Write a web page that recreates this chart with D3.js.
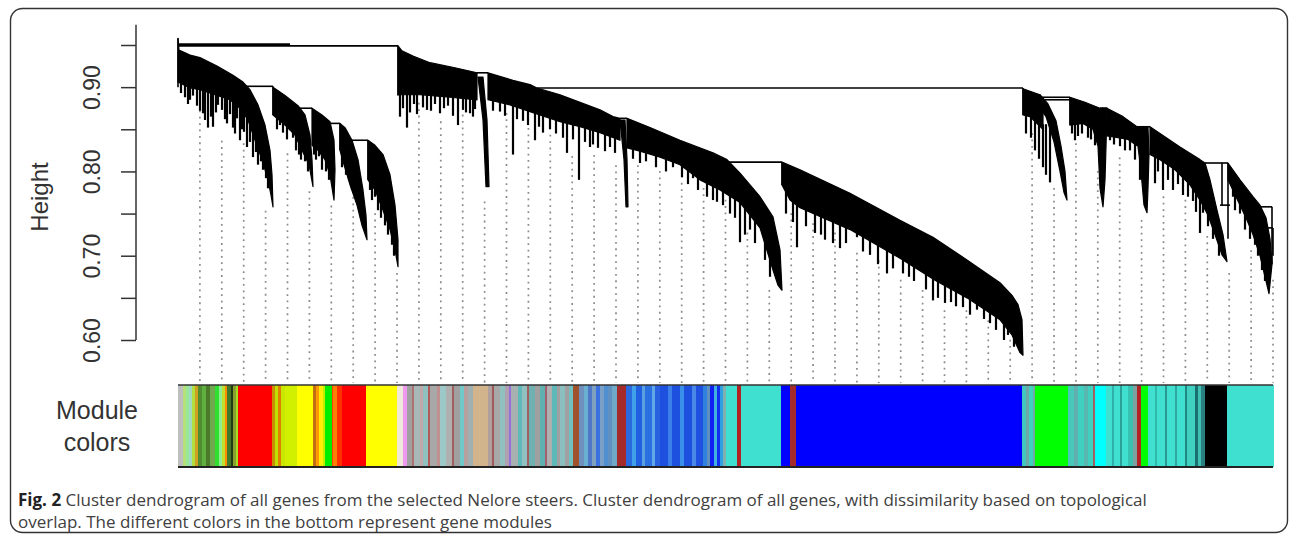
<!DOCTYPE html>
<html><head><meta charset="utf-8">
<script src="https://cdn.jsdelivr.net/npm/d3@7"></script>
<style>body{margin:0;background:#fff;} svg{display:block;}</style>
</head><body>
<svg id="c" width="1290" height="540"></svg>
<script>
// ---------------- DATA ----------------
const nLeaves = 1095;                       // leaf-order positions
const heightTicks  = [0.60,0.65,0.70,0.75,0.80,0.85,0.90,0.95];
const heightLabels = ["0.60","","0.70","","0.80","","0.90",""];

// cluster outlines: upper edge and lower edge, [leaf position, height]; spikes: [leaf position, tip height]
const upperB1 = [[0,0.958],[1,0.944],[12,0.938],[22,0.935],[39,0.925],[55,0.914],[65,0.906],[72,0.897],[80,0.879],[87,0.855],[92,0.825],[94,0.796],[95,0.758]];
const lowerB1 = [[0,0.906],[12,0.899],[22,0.897],[37,0.891],[52,0.885],[62,0.875],[70,0.861],[77,0.837],[84,0.814],[90,0.790],[93,0.772],[95,0.758]];
const spikesB1 = [[3,0.893],[7,0.888],[10,0.880],[12,0.885],[15,0.890],[19,0.878],[22,0.872],[25,0.869],[27,0.861],[30,0.852],[33,0.865],[35,0.853],[38,0.870],[40,0.879],[44,0.873],[47,0.862],[49,0.857],[52,0.868],[55,0.852],[57,0.845],[59,0.863],[62,0.837],[64,0.850],[66,0.847],[69,0.829],[72,0.835],[75,0.817],[78,0.823],[80,0.808],[83,0.812],[85,0.802],[88,0.792],[90,0.780]];

const upperB2 = [[95,0.900],[107,0.890],[120,0.878],[127,0.867],[132,0.843],[134,0.814],[135,0.782]];
const lowerB2 = [[95,0.867],[107,0.855],[117,0.843],[124,0.825],[131,0.808],[135,0.782]];
const spikesB2 = [[99,0.850],[102,0.855],[105,0.846],[109,0.838],[112,0.849],[115,0.840],[118,0.825],[121,0.820],[123,0.814],[127,0.812],[130,0.800]];

const upperB3 = [[134,0.875],[144,0.867],[152,0.859],[156,0.837],[157,0.802],[156,0.766]];
const lowerB3 = [[134,0.831],[140,0.825],[147,0.814],[152,0.796],[156,0.766]];
const spikesB3 = [[136,0.820],[138,0.814],[141,0.818],[144,0.802],[148,0.800],[151,0.790]];

const upperB4 = [[162,0.857],[167,0.852],[174,0.837],[180,0.814],[185,0.778],[188,0.748],[189,0.719]];
const lowerB4 = [[162,0.825],[166,0.808],[172,0.784],[179,0.760],[184,0.736],[189,0.719]];
const spikesB4 = [[164,0.805],[168,0.796],[171,0.790],[174,0.778],[177,0.770],[180,0.766],[183,0.745]];

const upperB5 = [[190,0.837],[197,0.831],[205,0.820],[212,0.796],[217,0.760],[220,0.719],[220,0.687]];
const lowerB5 = [[190,0.790],[197,0.778],[205,0.754],[212,0.731],[217,0.707],[220,0.687]];
const spikesB5 = [[192,0.778],[194,0.766],[197,0.770],[200,0.754],[203,0.745],[207,0.736],[210,0.725],[214,0.713],[216,0.700]];

const upperM1 = [[220,0.949],[224,0.943],[235,0.937],[252,0.929],[277,0.923],[299,0.917]];
const lowerM1 = [[220,0.891],[242,0.891],[272,0.888],[299,0.885]];
const spikesM1 = [[222,0.865],[225,0.875],[229,0.852],[232,0.870],[236,0.880],[239,0.868],[245,0.876],[249,0.873],[253,0.872],[257,0.880],[262,0.869],[266,0.875],[270,0.878],[275,0.866],[280,0.855],[285,0.873],[288,0.870],[292,0.869],[295,0.865],[297,0.874]];

const upperD1 = [[300,0.912],[305,0.861],[308,0.782]];
const lowerD1 = [[305,0.912],[309,0.861],[311,0.782]];

const upperM2 = [[310,0.917],[335,0.908],[352,0.903],[359,0.899],[382,0.891],[402,0.882],[422,0.873],[435,0.865],[442,0.863]];
const lowerM2 = [[310,0.885],[332,0.879],[352,0.871],[382,0.859],[402,0.853],[422,0.846],[442,0.837]];
const spikesM2 = [[315,0.872],[322,0.871],[327,0.866],[335,0.820],[339,0.862],[345,0.860],[350,0.855],[357,0.837],[361,0.853],[365,0.846],[372,0.850],[378,0.845],[385,0.840],[389,0.822],[395,0.838],[401,0.790],[407,0.835],[412,0.829],[415,0.832],[420,0.828],[427,0.824],[432,0.829],[437,0.822]];

const upperD2 = [[442,0.861],[446,0.814],[448,0.758]];
const lowerD2 = [[447,0.861],[449,0.814],[450,0.758]];

const upperM3 = [[449,0.863],[472,0.852],[502,0.837],[535,0.822],[549,0.814],[562,0.798],[582,0.770],[595,0.746],[602,0.707],[604,0.659]];
const lowerM3 = [[449,0.828],[462,0.824],[482,0.817],[502,0.808],[522,0.790],[542,0.778],[562,0.763],[582,0.733],[595,0.683],[600,0.665],[604,0.659]];
const spikesM3 = [[455,0.815],[462,0.810],[468,0.812],[478,0.805],[488,0.800],[495,0.805],[504,0.793],[510,0.785],[515,0.792],[520,0.778],[529,0.770],[535,0.766],[539,0.764],[545,0.760],[552,0.750],[557,0.745],[562,0.716],[567,0.725],[572,0.731],[577,0.715],[587,0.695],[592,0.675]];

const upperM4 = [[604,0.811],[622,0.802],[672,0.774],[722,0.742],[755,0.722],[789,0.695],[822,0.668],[834,0.653],[840,0.642],[844,0.624],[845,0.582]];
const lowerM4 = [[604,0.784],[612,0.766],[622,0.757],[672,0.731],[722,0.697],[757,0.671],[789,0.650],[822,0.624],[834,0.606],[842,0.585],[845,0.582]];
const spikesM4 = [[608,0.750],[615,0.740],[619,0.710],[628,0.735],[637,0.727],[643,0.725],[647,0.719],[655,0.715],[662,0.709],[668,0.715],[679,0.722],[685,0.705],[692,0.701],[700,0.690],[709,0.679],[715,0.685],[725,0.679],[731,0.675],[736,0.670],[742,0.687],[748,0.660],[755,0.647],[760,0.650],[767,0.644],[773,0.645],[778,0.640],[785,0.639],[792,0.630],[799,0.636],[806,0.625],[812,0.620],[818,0.612],[826,0.600],[830,0.606],[836,0.592]];

const upperR1a = [[845,0.898],[862,0.891],[865,0.880]];
const lowerR1a = [[845,0.867],[852,0.865],[858,0.858],[865,0.850]];
const spikesR1a = [[848,0.845],[853,0.840],[857,0.825],[861,0.815],[865,0.805],[868,0.796],[872,0.787]];

const upperR1b = [[862,0.891],[870,0.880],[878,0.860],[883,0.830],[887,0.800],[889,0.766]];
const lowerR1b = [[862,0.875],[868,0.865],[876,0.835],[882,0.800],[886,0.775],[889,0.766]];

const upperR2 = [[892,0.888],[907,0.882],[922,0.875],[929,0.875],[928,0.830],[927,0.790],[925,0.758]];
const lowerR2 = [[892,0.855],[905,0.857],[915,0.850],[920,0.830],[922,0.780],[925,0.758]];
const spikesR2 = [[894,0.845],[897,0.837],[900,0.842],[904,0.845],[910,0.840],[913,0.838],[917,0.831]];

const upperR3 = [[929,0.875],[945,0.865],[959,0.853],[970,0.852],[971,0.820],[970,0.780],[969,0.751]];
const lowerR3 = [[929,0.842],[940,0.840],[950,0.838],[960,0.830],[963,0.800],[966,0.760],[969,0.751]];
const spikesR3 = [[932,0.837],[936,0.832],[942,0.830],[947,0.825],[952,0.825],[957,0.814],[962,0.790]];

const upperR4 = [[972,0.853],[1002,0.829],[1022,0.814],[1027,0.810],[1032,0.790],[1039,0.754],[1045,0.725],[1049,0.693]];
const lowerR4 = [[972,0.820],[982,0.814],[997,0.802],[1012,0.784],[1022,0.766],[1030,0.748],[1037,0.725],[1044,0.701],[1049,0.693]];
const spikesR4 = [[977,0.786],[980,0.800],[985,0.778],[990,0.790],[995,0.778],[1000,0.785],[1005,0.772],[1010,0.770],[1015,0.765],[1018,0.752],[1022,0.727],[1025,0.751],[1030,0.735],[1035,0.720],[1041,0.700]];

const upperR5 = [[1050,0.810],[1062,0.790],[1075,0.770],[1082,0.760],[1088,0.745],[1092,0.720],[1094,0.690],[1091,0.655]];
const lowerR5 = [[1050,0.790],[1052,0.785],[1060,0.765],[1068,0.745],[1075,0.725],[1082,0.700],[1088,0.670],[1091,0.655]];
const spikesR5 = [[1055,0.770],[1057,0.754],[1062,0.750],[1067,0.731],[1072,0.720],[1077,0.713],[1080,0.700],[1084,0.683],[1087,0.670]];

// horizontal merge lines [from, to, height] and vertical drops [pos, hTop, hBottom]
const mergeLines = [[0,112,0.951],[0,220,0.949],[65,95,0.901],[120,134,0.875],[150,162,0.857],[167,190,0.837],[299,310,0.917],[359,845,0.899],[442,449,0.863],[549,604,0.811],[862,892,0.888],[862,892,0.885],[922,929,0.875],[959,972,0.853],[1027,1050,0.810],[1042,1052,0.760],[1082,1094,0.758],[1087,1095,0.733]];
const mergeDrops = [[0,0.958,0.90],[220,0.949,0.89],[95,0.901,0.867],[190,0.837,0.79],[845,0.899,0.867],[1094,0.758,0.69],[1095,0.733,0.70],[1050,0.810,0.72],[1044,0.810,0.760],[604,0.811,0.784],[162,0.857,0.825],[892,0.888,0.855]];

// guide lines: height where each of 50 evenly spaced guides starts
const guideHeights = [0.876,0.840,0.837,0.757,0.825,0.780,0.763,0.796,0.754,0.683,
  0.885,0.863,0.871,0.768,0.873,0.855,0.847,0.822,0.823,0.811,
  0.811,0.804,0.790,0.784,0.770,0.731,0.663,0.754,0.742,0.731,
  0.707,0.698,0.675,0.663,0.639,0.639,0.627,0.604,0.849,0.784,
  0.837,0.804,0.820,0.746,0.774,0.770,0.727,0.683,0.710,0.675];

// module colour stripes: start leaf position and colour
const moduleStarts = [0,5,8,11,14,17,20,24,28,32,37,41,44,47,49,53,55,58,60,94,97,100,103,107,119,135,138,141,145,147,154,155,159,164,188,219,225,
  229,234,236,242,245,250,252,259,262,268,274,276,282,286,290,295,
  310,314,316,322,327,331,333,340,344,349,351,357,362,367,369,374,379,382,387,391,395,
  401,406,410,414,418,422,426,430,434,439,
  448,454,458,464,467,474,477,482,490,494,502,506,514,518,525,529,532,536,539,542,545,548,559,563,603,612,618,
  844,848,851,855,857,890,896,900,906,910,915,917,928,934,936,942,944,950,955,959,963,
  970,977,979,987,989,997,999,1007,1009,1017,1020,1023,1027,1049];
const moduleColors = ["#bebebe","#b8e07a","#98e898","#a0d8c0","#b0e040","#d0a020","#508c30","#60b040","#4a7a2a","#70a850","#30e030","#90ee90","#c0e030","#ff8c00","#40782a","#203c10","#8aa030","#a0e020","#ff0000","#c89000","#c0e000","#e08000","#c8e800","#d0f000","#ffff00","#c07010","#ff9900","#ffee00","#c0f000","#00ee00","#ff4000","#ff8000","#ff3000","#ff0000","#ffff00","#efe9dc","#ee99ee",
  "#a0a0a0","#b07070","#a8b8b8","#c0a8a8","#90c0c0","#b05a5a","#a8a8a8","#c09090","#9cc8c8","#b0b0b0","#a06060","#a0a0a0","#70c8c8","#b8a0a0","#a0b0b0","#d2b48c",
  "#b0a0a0","#a05a5a","#a8a8a8","#90c0c0","#b0a0b0","#9370db","#a8b0b0","#60b8b8","#90c0c0","#a06060","#70b0b0","#a0a0a0","#60b0b0","#a06070","#b0b0b0","#5fb8b8","#a0a0a0","#8cc0c0","#a0a0a0","#70c0c0","#a0522d",
  "#7090c0","#6ab0d0","#5078c8","#80a0c0","#3a70e0","#7aa0c8","#5090d0","#6090c0","#70a8c8","#a52a2a",
  "#2a6ae0","#40a0e8","#2060e0","#5aa0e0","#2a70e0","#60a8e8","#2860e0","#1e50e0","#3a80e8","#1e50e0","#3a90e8","#1e50e0","#4a88e8","#2050e0","#3080e0","#6090c0","#1020f0","#40b0e0","#1030f0","#30a0e0","#80b0b0","#40e0d0","#b22222","#40e0d0","#0000ff","#a52a2a","#0000ff",
  "#40c8c0","#70a8a8","#40d0c0","#70a8a8","#00ff00","#48c8b8","#60b0b0","#40d0c0","#58b8b0","#40d0c0","#a06060","#00ffff","#40e0d0","#30b0a8","#40e0d0","#2aa098","#40e0d0","#38c0b0","#80a0a0","#b22222","#00ff00",
  "#40e0d0","#30b8a8","#40e0d0","#2a9890","#40e0d0","#30a8a0","#40e0d0","#208880","#40d0c0","#1a7070","#40c0b0","#2a8080","#000000","#40e0d0"];

const captionBold = "Fig. 2";
const captionLine1 = " Cluster dendrogram of all genes from the selected Nelore steers. Cluster dendrogram of all genes, with dissimilarity based on topological";
const captionLine2 = "overlap. The different colors in the bottom represent gene modules";

// ---------------- DRAW ----------------
const svg = d3.select("#c");
const x = d3.scaleLinear().domain([0, nLeaves]).range([178, 1273]);
const y = d3.scaleLinear().domain([0.6, 0.95]).range([340, 45]);
const barTop = 385, barBottom = 467;

// frame
svg.append("rect").attr("x",10.5).attr("y",8.5).attr("width",1277).attr("height",524)
  .attr("rx",12).attr("fill","none").attr("stroke","#333").attr("stroke-width",1.4);

// guides
const guideX = guideHeights.map((h,i)=> (i+1)/guideHeights.length*nLeaves);
svg.append("g").selectAll("line").data(guideHeights).join("line")
  .attr("x1",(d,i)=>x(guideX[i])).attr("x2",(d,i)=>x(guideX[i]))
  .attr("y1",d=>y(d)+3).attr("y2",barTop-2)
  .attr("stroke","#8a8a8a").attr("stroke-width",1.7).attr("stroke-dasharray","1.8,4.6");

// blobs
const blobs = [
  [upperB1,lowerB1,spikesB1],[upperB2,lowerB2,spikesB2],[upperB3,lowerB3,spikesB3],[upperB4,lowerB4,spikesB4],[upperB5,lowerB5,spikesB5],
  [upperM1,lowerM1,spikesM1],[upperD1,lowerD1,[]],[upperM2,lowerM2,spikesM2],[upperD2,lowerD2,[]],[upperM3,lowerM3,spikesM3],[upperM4,lowerM4,spikesM4],
  [upperR1a,lowerR1a,spikesR1a],[upperR1b,lowerR1b,[]],[upperR2,lowerR2,spikesR2],[upperR3,lowerR3,spikesR3],[upperR4,lowerR4,spikesR4],[upperR5,lowerR5,spikesR5]
];
const line = d3.line().x(d=>x(d[0])).y(d=>y(d[1]));
function interp(pts, px){
  for(let i=0;i<pts.length-1;i++){
    const a=pts[i], b=pts[i+1];
    if(px>=a[0] && px<=b[0]){ if(b[0]===a[0]) return Math.max(a[1],b[1]); return a[1]+(b[1]-a[1])*(px-a[0])/(b[0]-a[0]); }
  }
  return pts[pts.length-1][1];
}
const dg = svg.append("g");
blobs.forEach(([up,lo,sp])=>{
  dg.append("path").attr("d", line(up.concat(lo.slice().reverse())) + "Z")
    .attr("fill","#000").attr("stroke","#000").attr("stroke-width",1.2).attr("stroke-linejoin","round");
  dg.selectAll(null).data(sp).join("line")
    .attr("x1",d=>x(d[0])).attr("x2",d=>x(d[0]))
    .attr("y1",d=>y(interp(lo,d[0])+0.006)).attr("y2",d=>y(d[1]))
    .attr("stroke","#000").attr("stroke-width",2.2);
});
dg.selectAll(null).data(mergeLines).join("line")
  .attr("x1",d=>x(d[0])).attr("x2",d=>x(d[1])).attr("y1",d=>y(d[2])).attr("y2",d=>y(d[2]))
  .attr("stroke","#000").attr("stroke-width",1.6);
dg.selectAll(null).data(mergeDrops).join("line")
  .attr("x1",d=>x(d[0])).attr("x2",d=>x(d[0])).attr("y1",d=>y(d[1])).attr("y2",d=>y(d[2]))
  .attr("stroke","#000").attr("stroke-width",1.6);

// axis
const ax = svg.append("g").attr("transform","translate(136,0)");
ax.call(d3.axisLeft(y).tickValues(heightTicks).tickSize(15).tickFormat((d,i)=>heightLabels[i]));
ax.select(".domain").remove();
ax.append("line").attr("x1",0).attr("x2",0).attr("y1",y(0.6)).attr("y2",y(0.974)).attr("stroke","#333").attr("stroke-width",1.5);
ax.selectAll(".tick line").attr("stroke","#333").attr("stroke-width",1.5);
ax.selectAll(".tick text").attr("x",0).attr("dy","0.36em")
  .attr("transform","translate(-44,0) rotate(-90)")
  .style("text-anchor","middle").style("font-family","'Liberation Sans',Arial,sans-serif")
  .style("font-size","23px").attr("fill","#333");
svg.append("text").attr("transform","translate(40,197) rotate(-90)").attr("dy","0.35em")
  .attr("text-anchor","middle").style("font-family","'Liberation Sans',Arial,sans-serif")
  .style("font-size","24px").attr("fill","#333").text("Height");

// module colour bar
const bar = svg.append("g").attr("shape-rendering","crispEdges");
bar.selectAll("rect").data(moduleStarts).join("rect")
  .attr("x",(d)=>x(d)).attr("width",(d,i)=>x(i<moduleStarts.length-1?moduleStarts[i+1]:nLeaves)-x(d)+0.5)
  .attr("y",barTop).attr("height",barBottom-barTop).attr("fill",(d,i)=>moduleColors[i]);
svg.append("line").attr("x1",x(0)).attr("x2",x(nLeaves)).attr("y1",barTop).attr("y2",barTop).attr("stroke","#333").attr("stroke-width",1.5);
svg.append("line").attr("x1",x(0)).attr("x2",x(nLeaves)).attr("y1",barBottom).attr("y2",barBottom).attr("stroke","#222").attr("stroke-width",2);
const lab = svg.append("text").attr("text-anchor","middle").style("font-family","'Liberation Sans',Arial,sans-serif")
  .style("font-size","25px").attr("fill","#333");
lab.append("tspan").attr("x",97).attr("y",419).text("Module");
lab.append("tspan").attr("x",97).attr("y",451).text("colors");

// caption
const cap = svg.append("text").attr("x",18).attr("y",506).style("font-family","'Open Sans',sans-serif").style("font-size","15.5px").attr("fill","#404040");
cap.append("tspan").style("font-weight","bold").attr("fill","#222").text(captionBold);
cap.append("tspan").text(captionLine1);
const cap2 = svg.append("text").attr("x",18).attr("y",528).style("font-family","'Open Sans',sans-serif").style("font-size","15.5px").attr("fill","#404040").text(captionLine2);
// fit caption width to the figure's caption width
const w = cap.node().getComputedTextLength();
const fs = 15.5 * 1129 / w;
cap.style("font-size", fs+"px"); cap2.style("font-size", fs+"px");
</script>
</body></html>
